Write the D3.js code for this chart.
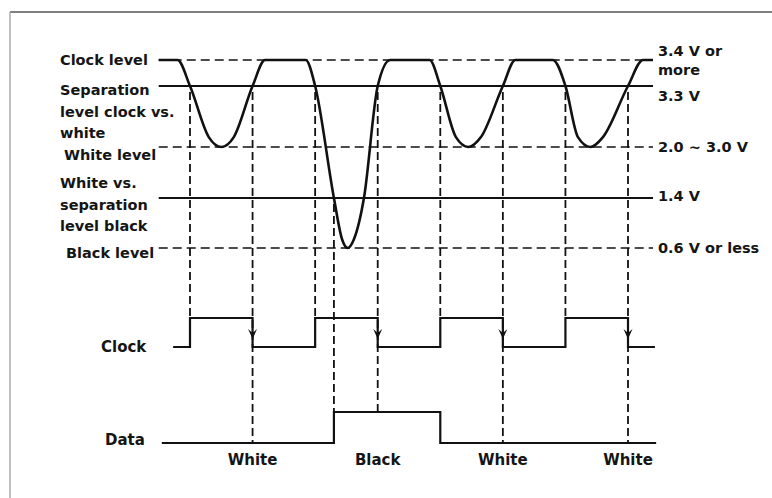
<!DOCTYPE html>
<html>
<head>
<meta charset="utf-8">
<script src="https://cdn.jsdelivr.net/npm/d3@7"></script>
<style>
    body { margin: 0; background: #fff; }
    text { font-family: "DejaVu Sans", sans-serif; font-weight: bold; fill: #151515; }
</style>
</head>
<body>
<div id="chart"></div>
<script>
// reference levels of the read signal (volts), top to bottom
var levelVolts = [3.4, 3.3, 2.5, 1.4, 0.6];
var levelKinds = ["level", "threshold", "level", "threshold", "level"];
var leftLabels = [
    ["Clock level"],
    ["Separation", "level clock vs.", "white"],
    ["White level"],
    ["White vs.", "separation", "level black"],
    ["Black level"]
];
var rightLabels = [
    ["3.4 V or", "more"],
    ["3.3 V"],
    ["2.0 ~ 3.0 V"],
    ["1.4 V"],
    ["0.6 V or less"]
];

// analog waveform, time in clock half-periods
var waveT = [-0.5, -0.2, 0, 0.3, 0.5, 0.7, 1.0, 1.2, 1.85, 2.0, 2.3, 2.43, 2.52, 2.62,
             2.78, 3.0, 3.2, 3.83, 4.0, 4.25, 4.45, 4.65, 5.0, 5.2, 5.8, 6.0, 6.2,
             6.4, 6.6, 7.0, 7.24, 7.4];
var waveV = [3.4, 3.4, 3.3, 2.63, 2.5, 2.63, 3.3, 3.4, 3.4, 3.3, 1.4, 0.74, 0.6, 0.74,
             1.4, 3.3, 3.4, 3.4, 3.3, 2.63, 2.5, 2.63, 3.3, 3.4, 3.4, 3.3, 2.63,
             2.5, 2.63, 3.3, 3.4, 3.4];

// decoded clock and data (0 = low, 1 = high)
var clockT = [-0.27, 0, 1, 2, 3, 4, 5, 6, 7, 7.43];
var clockV = [0, 1, 0, 1, 0, 1, 0, 1, 0, 0];
var dataT = [-0.45, 2.3, 4, 7.45];
var dataV = [0, 1, 0, 0];

// threshold crossings that drop a guide line down to clock or data
var guideT = [0, 1, 2, 2.3, 3, 4, 5, 6, 7];
var guideV = [3.3, 3.3, 3.3, 1.4, 3.3, 3.3, 3.3, 3.3, 3.3];
var guideTo = ["clock", "data", "clock", "data", "data", "clock", "data", "clock", "data"];

// sampled bits under the data line
var sampleT = [1, 3, 5, 7];
var sampleNames = ["White", "Black", "White", "White"];

var width = 772;
var height = 498;

var svg = d3.select("#chart")
    .append("svg")
    .attr("width", width)
    .attr("height", height);

// frame of the scanned page
svg.append("line")
    .attr("x1", 10).attr("y1", 12).attr("x2", width).attr("y2", 12)
    .attr("stroke", "#555").attr("stroke-width", 1.5);
svg.append("line")
    .attr("x1", 10).attr("y1", 12).attr("x2", 10).attr("y2", height)
    .attr("stroke", "#aaa").attr("stroke-width", 1.5);

var x = d3.scaleLinear().domain([0, 7]).range([190, 628]);
// the drawing is not to scale, so the voltage axis is piecewise
var y = d3.scaleLinear()
    .domain([0.6, 1.4, 2.5, 3.3, 3.4])
    .range([248, 198, 147, 86, 60]);
var yClock = d3.scaleLinear().domain([0, 1]).range([347, 318]);
var yData = d3.scaleLinear().domain([0, 1]).range([443, 412]);

var tStart = -0.5;
var tEnd = 7.4;

// horizontal level lines
svg.selectAll(".level")
    .data(levelVolts)
    .enter()
    .append("line")
    .attr("class", "level")
    .attr("x1", x(tStart))
    .attr("x2", x(tEnd))
    .attr("y1", function(d) { return y(d); })
    .attr("y2", function(d) { return y(d); })
    .attr("stroke", "#111")
    .attr("stroke-width", function(d, i) { return levelKinds[i] === "level" ? 1.6 : 1.8; })
    .attr("stroke-dasharray", function(d, i) { return levelKinds[i] === "level" ? "9,5" : null; });

// left labels (first line centre relative to its level)
var leftDy = [0, 4, 8, -15, 5];
var leftX = [60, 60, 64, 60, 66];
leftLabels.forEach(function(lines, i) {
    lines.forEach(function(s, j) {
        svg.append("text")
            .attr("x", leftX[i])
            .attr("y", y(levelVolts[i]) + leftDy[i] + j * 21.5)
            .attr("dy", "0.35em")
            .style("font-size", "14.5px")
            .text(s);
    });
});

// right labels
var rightDy = [-9, 10, 0, -2, 0];
rightLabels.forEach(function(lines, i) {
    lines.forEach(function(s, j) {
        svg.append("text")
            .attr("x", x(tEnd) + 5)
            .attr("y", y(levelVolts[i]) + rightDy[i] + j * 19)
            .attr("dy", "0.35em")
            .style("font-size", "14.5px")
            .text(s);
    });
});

// vertical dashed guides
svg.selectAll(".guide")
    .data(guideT)
    .enter()
    .append("line")
    .attr("class", "guide")
    .attr("x1", function(d) { return x(d); })
    .attr("x2", function(d) { return x(d); })
    .attr("y1", function(d, i) { return y(guideV[i]) + 6; })
    .attr("y2", function(d, i) {
        if (guideTo[i] === "clock") return yClock(1);
        // find data level at this time
        var v = 0;
        for (var k = 0; k < dataT.length; k++) {
            if (dataT[k] <= d + 0.001) v = dataV[k];
        }
        return yData(v);
    })
    .attr("stroke", "#111")
    .attr("stroke-width", 1.8)
    .attr("stroke-dasharray", "8,4");

// analog waveform
var wave = waveT.map(function(t, i) { return [t, waveV[i]]; });
svg.append("path")
    .datum(wave)
    .attr("fill", "none")
    .attr("stroke", "#111")
    .attr("stroke-width", 2.6)
    .attr("d", d3.line()
        .x(function(d) { return x(d[0]); })
        .y(function(d) { return y(d[1]); })
        .curve(d3.curveMonotoneX));

// clock signal
var clock = clockT.map(function(t, i) { return [t, clockV[i]]; });
svg.append("path")
    .datum(clock)
    .attr("fill", "none")
    .attr("stroke", "#111")
    .attr("stroke-width", 2.2)
    .attr("d", d3.line()
        .x(function(d) { return x(d[0]); })
        .y(function(d) { return yClock(d[1]); })
        .curve(d3.curveStepAfter));

// arrow heads on falling clock edges
var falling = clock.filter(function(d, i) {
    return i > 0 && clock[i - 1][1] === 1 && d[1] === 0;
});
svg.selectAll(".arrow")
    .data(falling)
    .enter()
    .append("path")
    .attr("class", "arrow")
    .attr("fill", "#111")
    .attr("d", function(d) {
        var cx = x(d[0]);
        var tip = yClock(0) - 8;
        return "M" + (cx - 4.5) + "," + (tip - 10) + "L" + cx + "," + tip +
            "L" + (cx + 4.5) + "," + (tip - 10) + "L" + cx + "," + (tip - 6) + "Z";
    });

// data signal
var dataLine = dataT.map(function(t, i) { return [t, dataV[i]]; });
svg.append("path")
    .datum(dataLine)
    .attr("fill", "none")
    .attr("stroke", "#111")
    .attr("stroke-width", 2.2)
    .attr("d", d3.line()
        .x(function(d) { return x(d[0]); })
        .y(function(d) { return yData(d[1]); })
        .curve(d3.curveStepAfter));

// signal names
svg.append("text")
    .attr("x", 101).attr("y", yClock(0)).attr("dy", "0.35em")
    .style("font-size", "15px")
    .text("Clock");
svg.append("text")
    .attr("x", 105).attr("y", yData(0) - 3).attr("dy", "0.35em")
    .style("font-size", "15px")
    .text("Data");

// sampled bit names
svg.selectAll(".sample")
    .data(sampleT)
    .enter()
    .append("text")
    .attr("class", "sample")
    .attr("x", function(d) { return x(d); })
    .attr("y", yData(0) + 17)
    .attr("dy", "0.35em")
    .attr("text-anchor", "middle")
    .style("font-size", "15px")
    .text(function(d, i) { return sampleNames[i]; });
</script>
</body>
</html>
